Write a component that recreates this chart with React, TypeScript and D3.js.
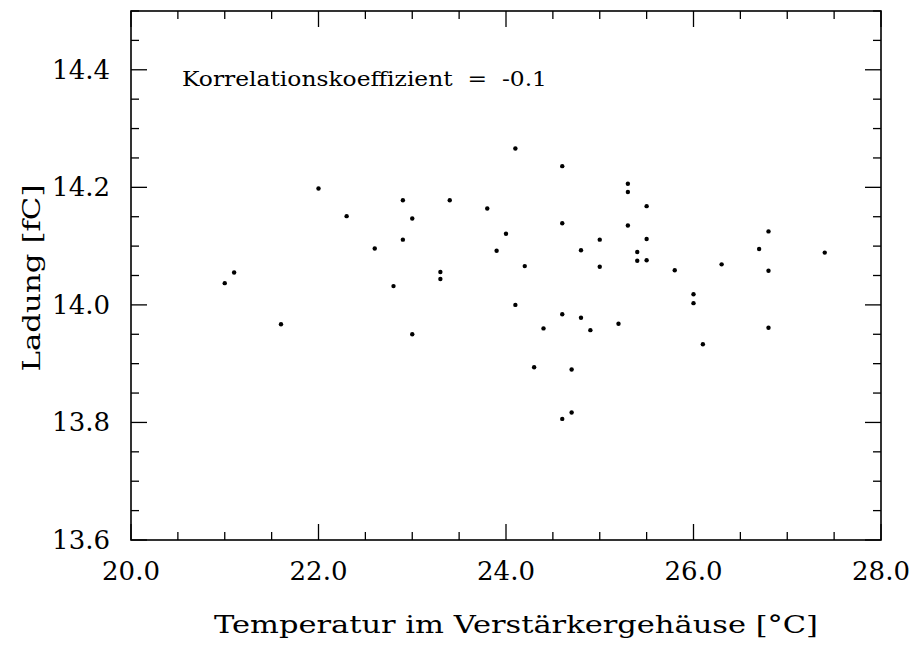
import React from "react";
import * as d3 from "d3";

const temperature = [
  21.0, 21.1, 21.6, 22.0, 22.3, 22.6, 22.8, 22.9, 22.9, 23.0, 23.0, 23.3, 23.3,
  23.4, 23.8, 23.9, 24.0, 24.1, 24.1, 24.2, 24.3, 24.4, 24.6, 24.6, 24.6, 24.6,
  24.7, 24.7, 24.8, 24.8, 24.9, 25.0, 25.0, 25.2, 25.3, 25.3, 25.3, 25.4, 25.4,
  25.5, 25.5, 25.5, 25.8, 26.0, 26.0, 26.1, 26.3, 26.7, 26.8, 26.8, 26.8, 27.4,
];
const charge = [
  14.037, 14.055, 13.967, 14.198, 14.151, 14.096, 14.032, 14.178, 14.111,
  14.147, 13.95, 14.056, 14.044, 14.178, 14.164, 14.092, 14.121, 14.266, 14.0,
  14.066, 13.894, 13.96, 14.236, 14.139, 13.984, 13.806, 13.89, 13.817, 14.093,
  13.978, 13.957, 14.111, 14.065, 13.968, 14.206, 14.192, 14.135, 14.09, 14.075,
  14.168, 14.112, 14.076, 14.059, 14.018, 14.003, 13.933, 14.069, 14.095,
  14.125, 14.058, 13.961, 14.089,
];
const xTickLabels = [20, 22, 24, 26, 28];
const yTickLabels = [13.6, 13.8, 14.0, 14.2, 14.4];
const xMinorStep = 0.5;
const yMinorStep = 0.05;
const annotation = "Korrelationskoeffizient  =  -0.1";
const xTitle = "Temperatur im Verstärkergehäuse [°C]";
const yTitle = "Ladung [fC]";

const W = 915;
const H = 645;
const left = 131;
const right = 881;
const top = 11;
const bottom = 540;
const FONT = "'DejaVu Serif', serif";

export default function App() {
  const x = d3.scaleLinear().domain([20, 28]).range([left, right]);
  const y = d3.scaleLinear().domain([13.6, 14.5]).range([bottom, top]);

  const xMinor = d3.range(20, 28 + 1e-9, xMinorStep);
  const yMinor = d3.range(13.6, 14.5 + 1e-9, yMinorStep);
  const isXMajor = (v: number) => Math.abs(v / 2 - Math.round(v / 2)) < 1e-6;
  const isYMajor = (v: number) =>
    Math.abs(v / 0.2 - Math.round(v / 0.2)) < 1e-6;
  const MAJ = 16;
  const MIN = 8;

  return (
    <svg
      width={W}
      height={H}
      style={{ position: "absolute", left: 0, top: 0, display: "block", background: "#fff" }}
    >
      <rect x={0} y={0} width={W} height={H} fill="#fff" />
      {/* ticks */}
      <g stroke="#000" strokeWidth={1.3}>
        {xMinor.map((v, i) => {
          const L = isXMajor(v) ? MAJ : MIN;
          const px = x(v);
          return (
            <g key={"xt" + i}>
              <line x1={px} x2={px} y1={bottom} y2={bottom - L} />
              <line x1={px} x2={px} y1={top} y2={top + L} />
            </g>
          );
        })}
        {yMinor.map((v, i) => {
          const L = isYMajor(v) ? MAJ : MIN;
          const py = y(v);
          return (
            <g key={"yt" + i}>
              <line x1={left} x2={left + L} y1={py} y2={py} />
              <line x1={right} x2={right - L} y1={py} y2={py} />
            </g>
          );
        })}
      </g>
      <rect
        x={left}
        y={top}
        width={right - left}
        height={bottom - top}
        fill="none"
        stroke="#000"
        strokeWidth={1.6}
      />
      {/* tick labels */}
      <g fontFamily={FONT} fontSize={26} fill="#000">
        {xTickLabels.map((v) => (
          <text key={"xl" + v} x={x(v)} y={580} textAnchor="middle">
            {v.toFixed(1)}
          </text>
        ))}
        {yTickLabels.map((v) => (
          <text
            key={"yl" + v}
            x={110}
            y={y(v)}
            textAnchor="end"
            dominantBaseline="central"
          >
            {v.toFixed(1)}
          </text>
        ))}
      </g>
      {/* points */}
      <g fill="#000">
        {temperature.map((t, i) => (
          <circle key={"p" + i} cx={x(t)} cy={y(charge[i])} r={2.2} />
        ))}
      </g>
      {/* annotation */}
      <text
        x={182}
        y={85.5}
        fontFamily={FONT}
        fontSize={21}
        textLength={365}
        lengthAdjust="spacingAndGlyphs"
        style={{ whiteSpace: "pre" }}
      >
        {annotation}
      </text>
      {/* axis titles */}
      <text
        x={214}
        y={633}
        fontFamily={FONT}
        fontSize={25}
        textLength={604}
        lengthAdjust="spacingAndGlyphs"
      >
        {xTitle}
      </text>
      <text
        transform={`translate(40,${278}) rotate(-90)`}
        textAnchor="middle"
        fontFamily={FONT}
        fontSize={25}
        textLength={187}
        lengthAdjust="spacingAndGlyphs"
      >
        {yTitle}
      </text>
    </svg>
  );
}
